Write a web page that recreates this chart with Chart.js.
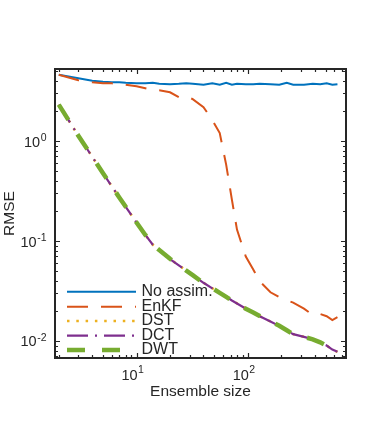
<!DOCTYPE html>
<html>
<head>
<meta charset="utf-8">
<script src="https://cdn.jsdelivr.net/npm/chart.js@4/dist/chart.umd.min.js"></script>
<style>
  html, body { margin: 0; padding: 0; background: #fff; }
</style>
</head>
<body>
<canvas id="rmse" width="382" height="444"></canvas>
<script>
// ensemble sizes (x) and RMSE for each method
const ensembleSizes = [2, 3, 4, 5, 6, 7, 8, 10, 12, 14, 16, 20, 24, 28, 32, 40, 48, 56, 64, 72,
  80, 96, 112, 128, 160, 192, 224, 256, 320, 384, 448, 512, 576, 640];

const noAssim = [4.59, 4.24, 4.00, 3.91, 3.86, 3.86, 3.82, 3.78, 3.78, 3.82, 3.73, 3.69, 3.73, 3.78,
  3.73, 3.65, 3.78, 3.65, 3.82, 3.65, 3.73, 3.69, 3.69, 3.73, 3.69, 3.65, 3.82, 3.65, 3.65, 3.73,
  3.69, 3.78, 3.65, 3.69];

const enkf = [4.59, 4.05, 3.86, 3.78, 3.78, 3.69, 3.65, 3.53, 3.37, 3.24, 3.22, 3.07, 2.74, 2.80,
  2.62, 2.18, 1.62, 1.20, 0.577, 0.259, 0.130, 0.070, 0.052, 0.0395, 0.0307, 0.0274, 0.0256,
  0.0242, 0.0211, 0.0182, 0.0186, 0.0177, 0.0162, 0.0173];

const dst = [2.31, 1.13, 0.695, 0.476, 0.352, 0.273, 0.220, 0.153, 0.115, 0.092, 0.0813, 0.0662,
  0.0570, 0.0506, 0.0456, 0.0382, 0.0337, 0.0303, 0.0276, 0.0254, 0.0238, 0.0211, 0.0193, 0.0177,
  0.0157, 0.0142, 0.0127, 0.0117, 0.0110, 0.0104, 0.0096, 0.0090, 0.0082, 0.0078];

const dct = [2.31, 1.13, 0.695, 0.476, 0.352, 0.273, 0.220, 0.153, 0.115, 0.092, 0.0813, 0.0660,
  0.0570, 0.0506, 0.0455, 0.0382, 0.0336, 0.0303, 0.0277, 0.0254, 0.0237, 0.0211, 0.0193, 0.0177,
  0.0157, 0.0141, 0.0127, 0.0117, 0.0110, 0.0104, 0.0096, 0.0090, 0.0082, 0.0078];

const dwt = [2.31, 1.13, 0.695, 0.476, 0.352, 0.273, 0.220, 0.153, 0.115, 0.092, 0.0813, 0.0664,
  0.0570, 0.0506, 0.0456, 0.0380, 0.0337, 0.0303, 0.0276, 0.0254, 0.0238, 0.0210, 0.0193, 0.0178,
  0.0157, 0.0142, 0.0128, 0.0117, 0.0110, 0.0104, 0.0097, 0.0090, 0.0082, 0.0078];

const seriesNames = ['No assim.', 'EnKF', 'DST', 'DCT', 'DWT'];

// decade ticks and their exponents
const xDecades = [10, 100];
const xExponents = ['1', '2'];
const yDecades = [0.01, 0.1, 1];
const yExponents = ['-2', '-1', '0'];

const ink = '#262626';
const family = '"Liberation Sans", Arial, Helvetica, sans-serif';

function pairs(vals) {
  return ensembleSizes.map((n, i) => ({ x: n, y: vals[i] }));
}

function logTicks(min, max) {
  const out = [];
  for (let e = Math.floor(Math.log10(min)); e <= Math.ceil(Math.log10(max)); e++) {
    for (let m = 1; m < 10; m++) {
      const v = m * Math.pow(10, e);
      if (v >= min && v <= max) out.push({ v, major: m === 1 });
    }
  }
  return out;
}

// MATLAB-like box, inward ticks, power-of-ten labels and legend
const matlabAxes = {
  id: 'matlabAxes',
  afterDatasetsDraw(chart) {
    const { ctx, chartArea: a, scales: { x, y } } = chart;
    ctx.save();
    ctx.strokeStyle = ink;
    ctx.lineWidth = 1.2;
    ctx.setLineDash([]);
    ctx.beginPath();
    for (const t of logTicks(x.min, x.max)) {
      const px = Math.round(x.getPixelForValue(t.v)) + 0.5;
      const len = t.major ? 5 : 3;
      ctx.moveTo(px, a.bottom); ctx.lineTo(px, a.bottom - len);
      ctx.moveTo(px, a.top); ctx.lineTo(px, a.top + len);
    }
    for (const t of logTicks(y.min, y.max)) {
      const py = Math.round(y.getPixelForValue(t.v)) + 0.5;
      const len = t.major ? 5 : 3;
      ctx.moveTo(a.left, py); ctx.lineTo(a.left + len, py);
      ctx.moveTo(a.right, py); ctx.lineTo(a.right - len, py);
    }
    ctx.stroke();

    ctx.lineWidth = 2;
    ctx.strokeRect(a.left, a.top, a.right - a.left, a.bottom - a.top);

    // tick labels
    ctx.fillStyle = ink;
    ctx.textBaseline = 'alphabetic';
    xDecades.forEach((v, i) => {
      const px = x.getPixelForValue(v);
      ctx.font = `14.5px ${family}`;
      ctx.textAlign = 'right';
      ctx.fillText('10', px + 1, a.bottom + 22);
      ctx.font = `10.5px ${family}`;
      ctx.textAlign = 'left';
      ctx.fillText(xExponents[i], px + 1.5, a.bottom + 15);
    });
    yDecades.forEach((v, i) => {
      const py = y.getPixelForValue(v);
      ctx.font = `10.5px ${family}`;
      ctx.textAlign = 'right';
      const wExp = ctx.measureText(yExponents[i]).width;
      ctx.fillText(yExponents[i], 46.5, py);
      ctx.font = `14.5px ${family}`;
      ctx.fillText('10', 46.5 - wExp - 0.5, py + 5.5);
    });

    // legend
    const rows = [291.7, 306.7, 321, 335.7, 350];
    chart.data.datasets.forEach((ds, i) => {
      const ly = rows[i];
      ctx.strokeStyle = ds.borderColor;
      ctx.lineWidth = ds.borderWidth;
      ctx.setLineDash(ds.borderDash || []);
      ctx.beginPath();
      ctx.moveTo(67, ly);
      ctx.lineTo(136, ly);
      ctx.stroke();
      ctx.setLineDash([]);
      ctx.fillStyle = ink;
      ctx.font = `16px ${family}`;
      ctx.textAlign = 'left';
      ctx.textBaseline = 'middle';
      ctx.fillText(ds.label, 141.5, ly);
    });
    ctx.restore();
  }
};

const colors = ['#0072BD', '#D95319', '#EDB120', '#7E2F8E', '#77AC30'];
const values = [noAssim, enkf, dst, dct, dwt];
const dashes = [[], [21, 13], [2.5, 6.8], [21, 7, 2, 7], [18, 17]];
const widths = [2, 2, 2.5, 2.2, 4.5];

new Chart(document.getElementById('rmse'), {
  type: 'line',
  data: {
    datasets: values.map((vals, i) => ({
      label: seriesNames[i],
      data: pairs(vals),
      borderColor: colors[i],
      backgroundColor: colors[i],
      borderWidth: widths[i],
      borderDash: dashes[i],
      pointRadius: 0,
      tension: 0,
      fill: false,
      order: values.length - i
    }))
  },
  options: {
    responsive: false,
    animation: false,
    devicePixelRatio: 1,
    layout: { padding: { top: 69, right: 36, bottom: 42.5, left: 0 } },
    plugins: { legend: { display: false }, tooltip: { enabled: false } },
    scales: {
      x: {
        type: 'logarithmic',
        min: 1.85,
        max: 764,
        grid: { display: false, drawTicks: false },
        border: { display: false },
        ticks: { display: false },
        title: { display: true, text: 'Ensemble size', color: ink, padding: 0,
          font: { family, size: 15.5 } },
        afterFit(scale) { scale.height = 43.5; }
      },
      y: {
        type: 'logarithmic',
        min: 0.00676,
        max: 5.25,
        grid: { display: false, drawTicks: false },
        border: { display: false },
        ticks: { display: false },
        title: { display: true, text: 'RMSE', color: ink, padding: 0,
          font: { family, size: 15.5 } },
        afterFit(scale) { scale.width = 55; }
      }
    }
  },
  plugins: [matlabAxes]
});
</script>
</body>
</html>
